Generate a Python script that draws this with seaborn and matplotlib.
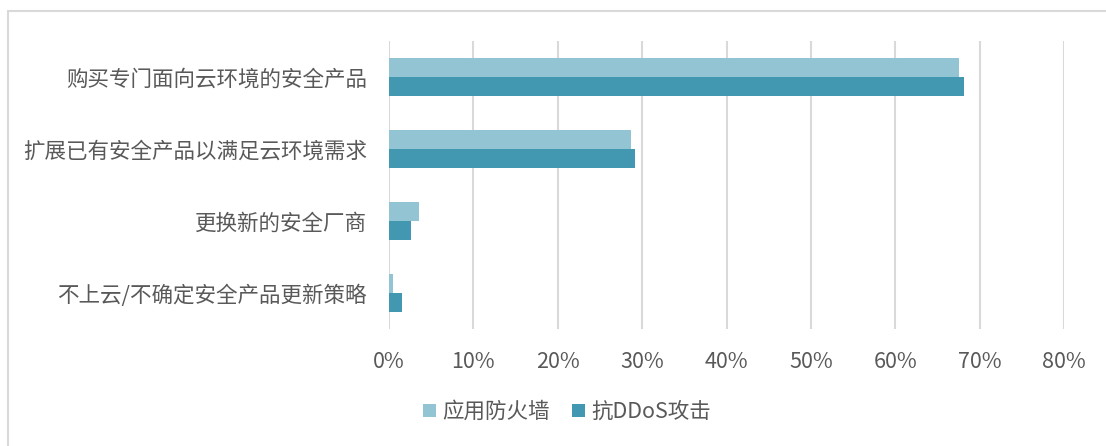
import numpy as np
import pandas as pd
import seaborn as sns
import matplotlib.pyplot as plt
from matplotlib.patches import Rectangle
from matplotlib.ticker import PercentFormatter

# data
categories = ["购买专门面向云环境的安全产品", "扩展已有安全产品以满足云环境需求",
              "更换新的安全厂商", "不上云/不确定安全产品更新策略"]
series = ["应用防火墙", "抗DDoS攻击"]
waf_vals = [0.675, 0.287, 0.035, 0.0045]
ddos_vals = [0.681, 0.291, 0.026, 0.015]
x_ticks = [0, 0.1, 0.2, 0.3, 0.4, 0.5, 0.6, 0.7, 0.8]

df = pd.DataFrame({
    "cat": categories * 2,
    "series": [series[0]] * 4 + [series[1]] * 4,
    "val": waf_vals + ddos_vals,
})

sns.set_style("white")
plt.rcParams['font.family'] = ['Noto Sans CJK SC', 'DejaVu Sans']

W, H = 1106, 446
fig = plt.figure(figsize=(W / 100, H / 100), dpi=100)
ax = fig.add_axes([389 / W, 1 - 329 / H, (1064 - 389) / W, (329 - 41) / H])

palette = {series[0]: "#92c4d4", series[1]: "#4298b0"}
sns.barplot(data=df, x="val", y="cat", hue="series", orient="h",
            palette=palette, width=0.52, ax=ax, saturation=1,
            edgecolor="none", legend=True, zorder=3)

ax.set_xlim(0, 0.8)
ax.set_xticks(x_ticks)
ax.xaxis.set_major_formatter(PercentFormatter(1.0, decimals=0))
ax.grid(axis="x", color="#d9d9d9", linewidth=1.5, zorder=0)
ax.set_axisbelow(True)
for s in ax.spines.values():
    s.set_visible(False)
ax.set_xlabel("")
ax.set_ylabel("")
ax.tick_params(axis="x", length=0, pad=16, labelsize=15.5, labelcolor="#595959")
ax.tick_params(axis="y", length=0, pad=16, labelsize=15.5, labelcolor="#595959")

ax.legend(loc="center", bbox_to_anchor=(567 / W, 1 - 412 / H),
          bbox_transform=fig.transFigure, ncol=2, frameon=False,
          fontsize=15.5, labelcolor="#595959", handlelength=0.6, handleheight=0.6,
          handletextpad=0.3, columnspacing=1.0)

# outer border
fig.patches.append(Rectangle((8 / W, -0.1), 1.2, 1 - 11 / H + 0.1,
                             transform=fig.transFigure, fill=False,
                             edgecolor="#d9d9d9", linewidth=1.5))

fig.savefig("out.png", dpi=100)
